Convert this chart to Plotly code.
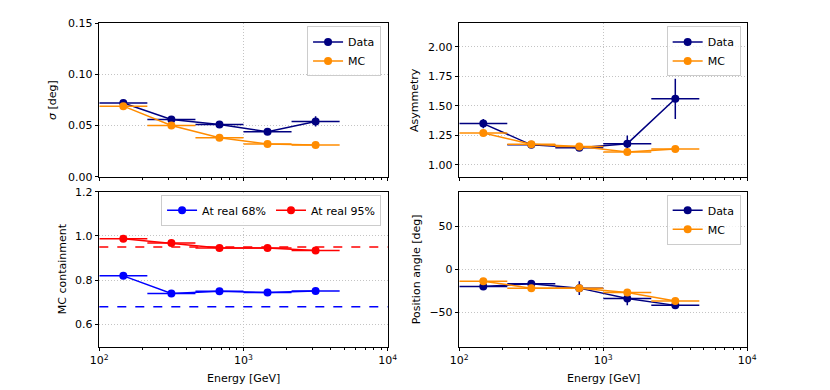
import numpy as np
import plotly.graph_objects as go
from plotly.subplots import make_subplots

# energy bins (GeV)
edges = np.array([100, 215.4, 464.2, 1000, 2154, 4642])
centers = np.sqrt(edges[:-1] * edges[1:])

# sigma [deg]
sigma_data = [0.072, 0.056, 0.051, 0.044, 0.054]
sigma_data_err = [0.002, 0.002, 0.002, 0.002, 0.005]
sigma_mc = [0.069, 0.050, 0.038, 0.032, 0.031]
sigma_mc_err = [0.001, 0.001, 0.001, 0.001, 0.001]

# asymmetry
asym_data = [1.35, 1.17, 1.145, 1.18, 1.56]
asym_data_err = [0.04, 0.02, 0.02, 0.07, 0.17]
asym_mc = [1.27, 1.175, 1.155, 1.11, 1.135]
asym_mc_err = [0.01, 0.01, 0.01, 0.01, 0.01]

# MC containment
cont68 = [0.82, 0.74, 0.75, 0.745, 0.752]
cont95 = [0.988, 0.968, 0.946, 0.946, 0.935]

# position angle [deg]
pa_data = [-20, -17, -22, -34, -42]
pa_data_err = [2, 3, 8, 8, 4]
pa_mc = [-14, -22, -22, -27, -37]
pa_mc_err = [1, 1, 1, 1, 1]

NAVY, ORANGE = "#000080", "#FF8C00"
BLUE, RED = "#0000FF", "#FF0000"

ex_plus = edges[1:] - centers
ex_minus = centers - edges[:-1]

fig = make_subplots(rows=2, cols=2)


def series(y, yerr, color, name, legend, row, col):
    ey = dict(type="data", array=yerr, color=color, thickness=1.5, width=0) if yerr is not None else None
    fig.add_trace(go.Scatter(
        x=centers, y=y, mode="lines+markers", name=name, legend=legend,
        line=dict(color=color, width=1.5), marker=dict(color=color, size=8),
        error_x=dict(type="data", array=ex_plus, arrayminus=ex_minus, symmetric=False,
                     color=color, thickness=1.5, width=0),
        error_y=ey,
    ), row=row, col=col)


series(sigma_data, sigma_data_err, NAVY, "Data", "legend", 1, 1)
series(sigma_mc, sigma_mc_err, ORANGE, "MC", "legend", 1, 1)
series(asym_data, asym_data_err, NAVY, "Data", "legend2", 1, 2)
series(asym_mc, asym_mc_err, ORANGE, "MC", "legend2", 1, 2)
series(cont68, None, BLUE, "At real 68%", "legend3", 2, 1)
series(cont95, None, RED, "At real 95%", "legend3", 2, 1)
series(pa_data, pa_data_err, NAVY, "Data", "legend4", 2, 2)
series(pa_mc, pa_mc_err, ORANGE, "MC", "legend4", 2, 2)

fig.add_hline(y=0.68, line=dict(color=BLUE, width=1.5, dash="dash"), row=2, col=1)
fig.add_hline(y=0.95, line=dict(color=RED, width=1.5, dash="dash"), row=2, col=1)

FONT = dict(family="DejaVu Sans", size=11, color="black")
W, H = 830, 390
OFF = 8  # page body margin offset


def xd(a, b):
    return [(a - OFF) / W, (b - OFF) / W]


def yd(top, bottom):
    return [1 - (bottom - OFF) / H, 1 - (top - OFF) / H]


XL = xd(99.3, 387.7)
XR = xd(459.3, 747.3)
YT = yd(23.3, 176.7)
YB = yd(191.7, 346.7)

axis_common = dict(showline=True, linecolor="black", linewidth=1, mirror=True,
                   ticks="outside", ticklen=3.5, tickcolor="black", zeroline=False,
                   showgrid=True, gridcolor="#c4c4c4", griddash="1px,2px", gridwidth=0.8,
                   tickfont=FONT, automargin=False)

for i, (dom_x, dom_y) in enumerate([(XL, YT), (XR, YT), (XL, YB), (XR, YB)], start=1):
    r, c = (i - 1) // 2 + 1, (i - 1) % 2 + 1
    fig.update_xaxes(axis_common, row=r, col=c,
                     type="log", range=[2, 4], domain=dom_x,
                     tickvals=[100, 1000, 10000],
                     ticktext=["10<sup>2</sup>", "10<sup>3</sup>", "10<sup>4</sup>"],
                     showticklabels=i > 2,
                     minor=dict(ticks="outside", ticklen=2, tickcolor="black", showgrid=False,
                                tickvals=[v * d for d in (100, 1000) for v in range(2, 10)]))
    fig.update_yaxes(axis_common, row=r, col=c, domain=dom_y)

fig.update_yaxes(row=1, col=1, range=[0, 0.15], tickvals=[0, 0.05, 0.10, 0.15], tickformat=".2f")
fig.update_yaxes(row=1, col=2, range=[0.9, 2.2], tickvals=[1.0, 1.25, 1.5, 1.75, 2.0], tickformat=".2f")
fig.update_yaxes(row=2, col=1, range=[0.5, 1.2], tickvals=[0.6, 0.8, 1.0, 1.2], tickformat=".1f")
fig.update_yaxes(row=2, col=2, range=[-90, 90], tickvals=[-50, 0, 50])

# axis titles
titles = [
    ("<i>σ</i> [deg]", 53, YT),
    ("Asymmetry", 415, YT),
    ("MC containment", 62, YB),
    ("Position angle [deg]", 416, YB),
]
for text, px, dom in titles:
    fig.add_annotation(text=text, x=(px - OFF) / W, y=(dom[0] + dom[1]) / 2,
                       xref="paper", yref="paper", textangle=-90, showarrow=False,
                       font=FONT, xanchor="center", yanchor="middle")
for dom in (XL, XR):
    fig.add_annotation(text="Energy [GeV]", x=(dom[0] + dom[1]) / 2, y=1 - (378 - OFF) / H,
                       xref="paper", yref="paper", showarrow=False, font=FONT,
                       xanchor="center", yanchor="middle")

leg = dict(bgcolor="rgba(255,255,255,0.8)", bordercolor="#cccccc", borderwidth=1,
           font=FONT, xanchor="right", yanchor="top", itemwidth=30, tracegroupgap=0)
fig.update_layout(
    width=W, height=H, margin=dict(l=0, r=0, t=0, b=0, autoexpand=False),
    paper_bgcolor="white", plot_bgcolor="white", font=FONT,
    legend=dict(leg, x=XL[1] - 0.008, y=YT[1] - 0.008),
    legend2=dict(leg, x=XR[1] - 0.008, y=YT[1] - 0.008),
    legend3=dict(leg, x=XL[1] - 0.008, y=YB[1] - 0.008, orientation="h"),
    legend4=dict(leg, x=XR[1] - 0.008, y=YB[1] - 0.008),
)

fig.write_html("out.html")
